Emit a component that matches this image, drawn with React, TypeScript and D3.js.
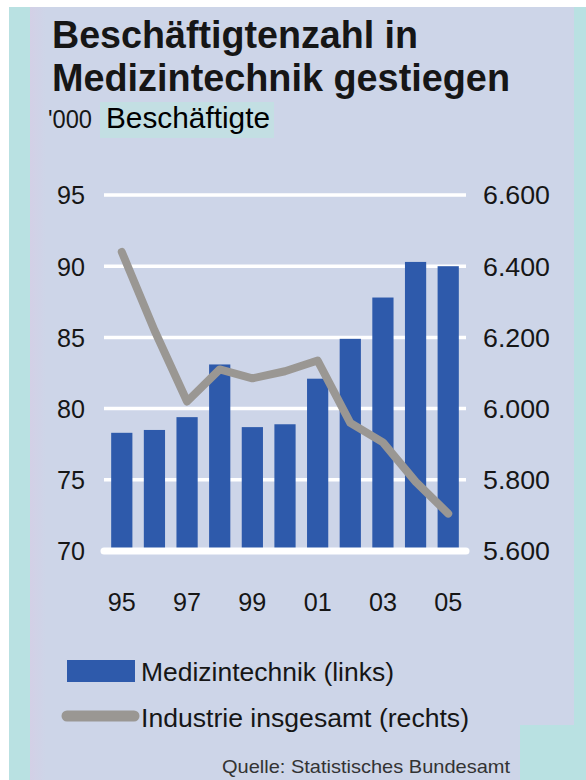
import React from 'react'
import * as d3 from 'd3'

// Daten
const years = ['95', '96', '97', '98', '99', '00', '01', '02', '03', '04', '05']
const yearLabels = ['95', '97', '99', '01', '03', '05']
const medizintechnik = [78.3, 78.5, 79.4, 83.1, 78.7, 78.9, 82.1, 84.9, 87.8, 90.3, 90.0]
const industrie = [6440, 6220, 6020, 6110, 6085, 6105, 6135, 5960, 5905, 5795, 5705]
const leftTicks = [70, 75, 80, 85, 90, 95]
const rightTicks = [5600, 5800, 6000, 6200, 6400, 6600]
const rightTickLabels = ['5.600', '5.800', '6.000', '6.200', '6.400', '6.600']

const W = 586
const H = 780
const BLUE = '#2e5aab'
const GREY = '#9a9793'
const font = '"Liberation Sans", Arial, sans-serif'

export default function App() {
  const x = d3.scaleBand<string>()
    .domain(years)
    .range([104, 466])
    .paddingInner(0.35)
    .paddingOuter(0.22)

  const yLeft = d3.scaleLinear().domain([70, 95]).range([551, 195])
  const yRight = d3.scaleLinear().domain([5600, 6600]).range([551, 195])

  const line = d3.line<number>()
    .x((d, i) => (x(years[i]) as number) + x.bandwidth() / 2)
    .y(d => yRight(d))

  return (
    <svg width={W} height={H} style={{ position: 'absolute', left: 0, top: 0 }} fontFamily={font}>
      <defs>
        <linearGradient id="edge" x1="0" x2="1" y1="0" y2="0">
          <stop offset="0" stopColor="#d3d0e6" />
          <stop offset="1" stopColor="#cdd5e8" />
        </linearGradient>
      </defs>
      <rect x={0} y={0} width={W} height={H} fill="#fff" />
      <rect x={9} y={7} width={W - 9} height={H - 7} fill="#b9e1e2" />
      <rect x={30} y={7} width={544} height={H - 7} fill="#cdd5e8" />
      <rect x={30} y={7} width={16} height={H - 7} fill="url(#edge)" />
      <rect x={520} y={725} width={54} height={H - 725} fill="#b9e1e2" />

      {/* Titel */}
      <text x={52} y={48} fontSize={38} fontWeight="bold" fill="#161616"
        textLength={366} lengthAdjust="spacingAndGlyphs">Beschäftigtenzahl in</text>
      <text x={52} y={91} fontSize={38} fontWeight="bold" fill="#161616"
        textLength={458} lengthAdjust="spacingAndGlyphs">Medizintechnik gestiegen</text>
      <rect x={100} y={102} width={174} height={36} fill="#c3dfe3" />
      <text x={48} y={128} fontSize={26} fill="#161616"
        textLength={44} lengthAdjust="spacingAndGlyphs">'000</text>
      <text x={106} y={128} fontSize={29} fill="#000"
        textLength={164} lengthAdjust="spacingAndGlyphs">Beschäftigte</text>

      {/* Gitterlinien */}
      {leftTicks.filter(t => t !== 70).map(t => (
        <line key={t} x1={104} x2={466} y1={yLeft(t)} y2={yLeft(t)} stroke="#fff" strokeWidth={3.5} />
      ))}

      {/* Balken */}
      {medizintechnik.map((v, i) => (
        <rect key={years[i]} x={x(years[i])} y={yLeft(v)} width={x.bandwidth()}
          height={yLeft(70) - yLeft(v)} fill={BLUE} />
      ))}

      <line x1={104} x2={466} y1={yLeft(70)} y2={yLeft(70)} stroke="#fff" strokeWidth={7} strokeLinecap="round" />

      {/* Linie */}
      <path d={line(industrie) as string} fill="none" stroke={GREY} strokeWidth={8}
        strokeLinecap="round" strokeLinejoin="round" />

      {/* Achsen */}
      {leftTicks.map(t => (
        <text key={t} x={85} y={yLeft(t)} dy="0.36em" textAnchor="end" fontSize={26} fill="#161616"
          textLength={28} lengthAdjust="spacingAndGlyphs">{t}</text>
      ))}
      {rightTicks.map((t, i) => (
        <text key={t} x={483} y={yRight(t)} dy="0.36em" fontSize={26} fill="#161616"
          textLength={67} lengthAdjust="spacingAndGlyphs">{rightTickLabels[i]}</text>
      ))}
      {yearLabels.map(y => (
        <text key={y} x={(x(y) as number) + x.bandwidth() / 2} y={611} textAnchor="middle"
          fontSize={26} fill="#161616" textLength={28} lengthAdjust="spacingAndGlyphs">{y}</text>
      ))}

      {/* Legende */}
      <rect x={67} y={660} width={68} height={22} fill={BLUE} />
      <text x={141} y={681} fontSize={26} fill="#161616"
        textLength={253} lengthAdjust="spacingAndGlyphs">Medizintechnik (links)</text>
      <line x1={67} x2={134} y1={716} y2={716} stroke={GREY} strokeWidth={11} strokeLinecap="round" />
      <text x={141} y={727} fontSize={26} fill="#161616"
        textLength={328} lengthAdjust="spacingAndGlyphs">Industrie insgesamt (rechts)</text>

      <text x={222} y={773} fontSize={19} fill="#333"
        textLength={288} lengthAdjust="spacingAndGlyphs">Quelle: Statistisches Bundesamt</text>
    </svg>
  )
}
